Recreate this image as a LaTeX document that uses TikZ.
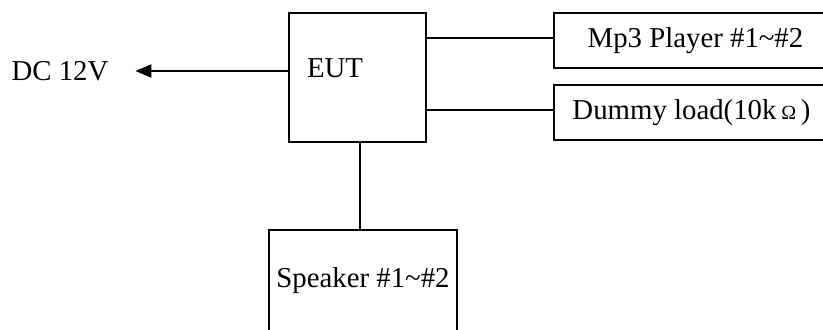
\documentclass[tikz,border=0pt]{standalone}
\usepackage{fontspec}
\setmainfont{Liberation Serif}
\usepackage{tikz}
\usetikzlibrary{shapes,arrows,positioning,calc,arrows.meta}
\tikzset{
    block/.style={draw, line width=1pt, inner sep=0pt},
    wire/.style={line width=1pt},
    arrow/.style={-{Triangle[length=8pt,width=6.5pt]}, line width=1pt}
}

\begin{document}
\begin{tikzpicture}[x=0.5pt, y=-0.5pt, font=\fontsize{14.4}{16}\selectfont]
    % Page frame
    \useasboundingbox (0,0) rectangle (823,330);
    \clip (0,0) rectangle (823,330);

    % Equipment under test
    \node[block, minimum width=68.5pt, minimum height=64.5pt] (eut) at (357.5,77.5) {};
    \node[inner sep=0pt] (eutlbl) at (335,68) {EUT};

    % Power supply
    \node[inner sep=0pt, outer xsep=13.5pt] (dc) at (60,71) {DC 12V};

    % Loads on the right
    \node[block, minimum width=141.5pt, minimum height=27.5pt] (mp3) at (695.5,40.5) {Mp3 Player \#1\textasciitilde\#2};
    \node[block, minimum width=137.5pt, minimum height=27.5pt] (dummy) at (691.5,112.5) {Dummy load(10k\,{\fontsize{10}{10}\selectfont Ω}\,)};

    % Speaker below
    \node[block, minimum width=94pt, minimum height=51pt] (spk) at (363,281) {Speaker \#1\textasciitilde\#2};

    % Connections
    \draw[arrow] (eut.west |- dc) -- (dc.east);
    \draw[wire] ([yshift=1pt]eut.east |- mp3) -- ([yshift=1pt]mp3.west);
    \draw[wire] ([yshift=1pt]eut.east |- dummy) -- ([yshift=1pt]dummy.west);
    \draw[wire] ([xshift=1.2pt]eut.south) -- ([xshift=1.2pt]eut.south |- spk.north);
\end{tikzpicture}
\end{document}
